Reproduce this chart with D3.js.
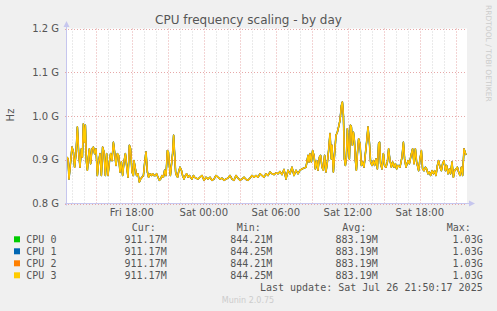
<!DOCTYPE html>
<html><head><meta charset="utf-8">
<script src="https://cdn.jsdelivr.net/npm/d3@7"></script>
<style>html,body{margin:0;padding:0;background:#f0f0f0;overflow:hidden}svg{display:block}</style>
</head><body><svg id="c" width="497" height="311"></svg>
<script>
// ---- data ----
const title = "CPU frequency scaling - by day";
const yLabel = "Hz";
const yTicks = [0.8e9, 0.9e9, 1.0e9, 1.1e9, 1.2e9];
const yTickLabels = ["0.8 G", "0.9 G", "1.0 G", "1.1 G", "1.2 G"];
const xTickTimes = ["2025-07-25T18:00", "2025-07-26T00:00", "2025-07-26T06:00", "2025-07-26T12:00", "2025-07-26T18:00"];
const xTickLabels = ["Fri 18:00", "Sat 00:00", "Sat 06:00", "Sat 12:00", "Sat 18:00"];
const startTime = "2025-07-25T12:36";
const endTime = "2025-07-26T21:56";
// sample times (minutes after startTime) and CPU frequency (MHz)
const minutes = [0,5,10,18,25,32,38,45,52,58,65,72,77,82,87,92,97,102,107,112,118,125,132,138,145,152,158,165,172,178,185,192,198,205,212,218,225,232,238,245,252,258,265,272,278,285,292,298,305,312,318,325,332,
335,342,348,355,362,368,375,382,388,395,402,408,415,422,428,435,442,448,455,462,468,475,482,488,495,502,507,512,517,522,528,533,538,543,548,553,558,565,572,578,585,592,598,605,612,618,625,632,638,645,
655,665,675,685,695,705,715,725,735,745,755,765,775,785,795,805,815,825,835,845,855,865,875,885,895,905,915,925,935,945,955,965,975,
985,995,1005,1015,1025,1035,1045,1055,1065,1075,1085,1095,1105,1115,1125,1135,1145,1155,1165,1175,1185,1195,1205,1210,1215,1222,1228,1235,1242,1248,1255,1262,1268,1275,1282,1288,1295,1302,1308,1315,1322,
1325,1332,1338,1345,1352,1358,1365,1372,1377,1382,1387,1392,1397,1402,1407,1412,1417,1422,1427,1432,1437,1442,1447,1452,1458,1465,1472,1478,1485,1492,1498,1505,1512,1518,1525,1532,1538,1545,1552,1558,1563,1568,1575,1582,1588,1595,1602,1608,1615,1622,1628,1635,1642,1648,
1655,1665,1675,1682,1688,1695,1705,1712,1722,1728,1735,1742,1748,1758,1765,1772,1778,1785,1792,1798,1805,1812,1818,1825,1832,1838,1845,1852,1858,1865,1872,1878,1885,1892,1898,1905,1912,1918,1925,1932,1938,1945,1952,1958,1965,1972,1978,1985,1990,1995];
const mhz = [906,902,856,895,929,918,883,914,975,918,883,925,906,982,940,979,895,876,906,925,891,925,929,914,925,864,895,914,864,929,918,864,914,864,895,914,898,940,918,887,914,910,872,895,864,895,914,887,860,933,925,872,864,
898,879,864,868,849,856,860,864,891,918,872,860,868,864,868,864,864,868,860,853,856,864,860,876,864,921,918,887,864,887,914,956,914,872,864,860,872,883,876,864,856,864,868,860,864,860,856,864,860,858,
856,860,864,853,860,856,860,853,856,864,860,856,858,853,856,858,864,856,853,864,858,853,856,860,855,853,858,864,860,864,860,868,864,
860,868,864,872,868,866,870,868,873,866,878,856,876,868,883,864,876,868,876,879,881,883,910,895,914,895,921,910,879,898,876,906,910,883,876,910,872,895,921,960,902,
933,872,914,956,963,975,990,1024,1032,1002,902,887,906,971,925,902,979,975,933,963,944,898,876,914,948,937,887,895,883,914,940,975,940,895,887,898,887,902,879,937,940,891,879,914,887,883,895,925,898,883,895,883,891,879,
887,883,906,940,902,883,898,891,914,925,891,925,895,875,902,921,879,875,883,879,868,872,864,875,868,875,864,887,898,883,875,891,898,875,887,868,879,868,895,860,875,879,883,872,864,883,864,925,918,911];
const seriesNames = ["CPU 0", "CPU 1", "CPU 2", "CPU 3"];
const seriesColors = ["#00cc00", "#0066b3", "#ff8000", "#ffcc00"];
const seriesValues = [mhz, mhz, mhz, mhz];
const legendHeaders = ["Cur:", "Min:", "Avg:", "Max:"];
const curVals = ["911.17M", "911.17M", "911.17M", "911.17M"];
const minVals = ["844.21M", "844.25M", "844.21M", "844.25M"];
const avgVals = ["883.19M", "883.19M", "883.19M", "883.19M"];
const maxVals = ["1.03G", "1.03G", "1.03G", "1.03G"];
const lastUpdate = "Last update: Sat Jul 26 21:50:17 2025";
const footer = "Munin 2.0.75";
const sideText = "RRDTOOL / TOBI OETIKER";

// ---- drawing ----
const svg = d3.select("#c");
const parse = d3.utcParse("%Y-%m-%dT%H:%M");
const t0 = parse(startTime), t1 = parse(endTime);
const L = 67, R = 467, T = 28.5, B = 203.5;
const x = d3.scaleUtc().domain([t0, t1]).range([L, R]);
const y = d3.scaleLinear().domain([0.8e9, 1.2e9]).range([B, T]);

svg.append("rect").attr("width", 497).attr("height", 311).attr("fill", "#f0f0f0");
svg.append("rect").attr("x", L).attr("y", T).attr("width", R - L).attr("height", B - T).attr("fill", "#ffffff");

// vertical grid
const hours = d3.utcHour.every(1).range(t0, t1);
const g = svg.append("g");
hours.forEach(h => {
  const major = h.getUTCHours() % 3 === 0;
  const px = Math.round(x(h)) + 0.5;
  g.append("line").attr("x1", px).attr("x2", px).attr("y1", T).attr("y2", B + 2)
    .attr("stroke", major ? "#e6a8a8" : "#d4d4d4").attr("stroke-width", 1)
    .attr("stroke-dasharray", "1,2");
});
// horizontal grid
yTicks.forEach(v => {
  const py = Math.round(y(v)) + 0.5;
  g.append("line").attr("x1", L - 2).attr("x2", R).attr("y1", py).attr("y2", py)
    .attr("stroke", "#e6a8a8").attr("stroke-width", 1).attr("stroke-dasharray", "1,2");
});

// series (drawn in order; later ones cover earlier ones)
const widths = [1.3, 1.6, 1.4, 1.2];
const line = d3.line().x((d, i) => x(new Date(t0.getTime() + minutes[i] * 60000))).y(d => y(d * 1e6));
seriesValues.forEach((vals, k) => {
  svg.append("path").datum(vals).attr("d", line).attr("fill", "none")
    .attr("stroke", seriesColors[k]).attr("stroke-width", widths[k]).attr("stroke-linejoin", "round");
});

// axes
const axisColor = "#c6c6ee";
svg.append("line").attr("x1", L - 0.5).attr("x2", L - 0.5).attr("y1", B + 2).attr("y2", 24).attr("stroke", axisColor);
svg.append("path").attr("d", `M${L - 3.5},${27} L${L - 0.5},${21} L${L + 2.5},${27} Z`).attr("fill", axisColor);
svg.append("line").attr("x1", L - 2).attr("x2", R + 4).attr("y1", B).attr("y2", B).attr("stroke", axisColor);
svg.append("path").attr("d", `M${R + 2},${B - 3} L${R + 8},${B} L${R + 2},${B + 3} Z`).attr("fill", axisColor);

// y tick labels
const txt = "#555555";
yTicks.forEach((v, i) => {
  svg.append("text").attr("x", 59).attr("y", y(v) + 3.5).attr("text-anchor", "end")
    .attr("font-family", "DejaVu Sans").attr("font-size", 10).attr("fill", txt).text(yTickLabels[i]);
});
// x tick labels
xTickTimes.forEach((s, i) => {
  svg.append("text").attr("x", x(parse(s))).attr("y", 216).attr("text-anchor", "middle")
    .attr("font-family", "DejaVu Sans").attr("font-size", 10).attr("fill", txt).text(xTickLabels[i]);
});

// title, y label, side text
svg.append("text").attr("x", 248.5).attr("y", 24).attr("text-anchor", "middle")
  .attr("font-family", "DejaVu Sans").attr("font-size", 12).attr("fill", "#555555").text(title);
svg.append("text").attr("transform", "translate(14,115) rotate(-90)").attr("text-anchor", "middle")
  .attr("font-family", "DejaVu Sans").attr("font-size", 10).attr("fill", txt).text(yLabel);
svg.append("text").attr("transform", "translate(486,5) rotate(90)").attr("text-anchor", "start")
  .attr("font-family", "DejaVu Sans").attr("font-size", 7.5).attr("fill", "#cccccc").text(sideText);

// legend
const mono = "DejaVu Sans Mono";
const colRight = [166.7, 272.3, 377.7, 482.7];
const headX = [131.7, 236.7, 342.3, 446.7];
legendHeaders.forEach((h, i) => {
  svg.append("text").attr("x", headX[i]).attr("y", 231).attr("font-family", mono).attr("font-size", 10)
    .attr("fill", txt).text(h);
});
const cols = [curVals, minVals, avgVals, maxVals];
seriesNames.forEach((n, k) => {
  const cy = 239.3 + k * 12;
  svg.append("rect").attr("x", 14).attr("y", cy - 3).attr("width", 6).attr("height", 6).attr("fill", seriesColors[k]);
  svg.append("text").attr("x", 26.3).attr("y", cy + 3.5).attr("font-family", mono).attr("font-size", 10)
    .attr("fill", txt).text(n);
  cols.forEach((c, j) => {
    svg.append("text").attr("x", colRight[j]).attr("y", cy + 3.5).attr("text-anchor", "end")
      .attr("font-family", mono).attr("font-size", 10).attr("fill", txt).text(c[k]);
  });
});
svg.append("text").attr("x", 482.7).attr("y", 291).attr("text-anchor", "end").attr("font-family", mono)
  .attr("font-size", 10).attr("fill", txt).text(lastUpdate);
svg.append("text").attr("x", 248).attr("y", 303).attr("text-anchor", "middle").attr("font-family", "DejaVu Sans")
  .attr("font-size", 8).attr("fill", "#cccccc").text(footer);
</script></body></html>
